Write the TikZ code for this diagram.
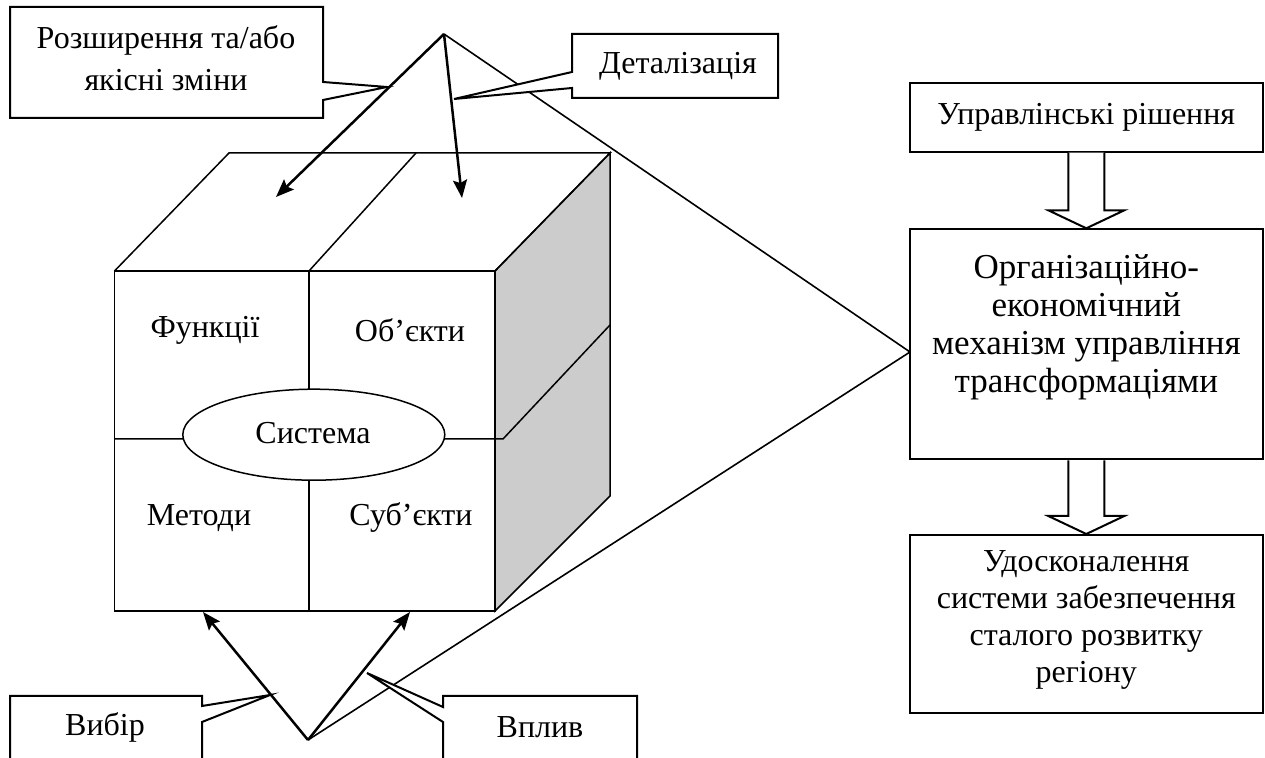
\documentclass[tikz,border=0pt]{standalone}
\usepackage{fontspec}
\setmainfont{Liberation Serif}
\usetikzlibrary{arrows.meta,calc,shapes.geometric}
\definecolor{sidegrey}{RGB}{204,204,204}
\begin{document}
\begin{tikzpicture}[x=0.5pt,y=-0.5pt,
  txt/.style={font=\fontsize{16pt}{18.5pt}\selectfont, align=center, inner sep=0pt},
  bigtxt/.style={font=\fontsize{17.5pt}{19pt}\selectfont, align=center, inner sep=0pt},
  box/.style={draw, line width=1pt, fill=white, inner sep=0pt},
  edge/.style={line width=0.75pt, line join=miter},
  ray/.style={line width=0.8pt},
  pointer/.style={line width=1.25pt, -{Stealth[length=9pt,width=7pt,inset=1.5pt]}},
  callout/.style={draw, line width=1pt, fill=white, line join=miter},
  hollow/.style={draw, line width=1pt, fill=white, line join=miter}
]
\useasboundingbox (0,0) rectangle (1265,758);
\clip (0,0) rectangle (1265,758);

% ---------- cube ----------
\coordinate (fTL) at (114.5,271);
\coordinate (fTR) at (495,271);
\coordinate (fBR) at (495,611);
\coordinate (fBL) at (114.5,611);
\coordinate (bTL) at (229,153);
\coordinate (bTR) at (610,153);
\coordinate (bBR) at (610,496);
\coordinate (fTM) at (309,271);
\coordinate (fBM) at (309,611);
\coordinate (bTM) at (416,153);
\coordinate (fML) at (114.5,439);
\coordinate (fMR) at (503,439);
\coordinate (bMR) at (610,325);

\filldraw[edge, fill=sidegrey] (fTR) -- (bTR) -- (bBR) -- (fBR) -- cycle;
\draw[edge] (fTL) rectangle (fBR);
\draw[edge] (fTL) -- (bTL) -- (bTR) -- (fTR);
\draw[edge] (fTM) -- (bTM);
\draw[edge] (fTM) -- (fBM);
\draw[edge] (fML) -- (fMR) -- (bMR);

\node[draw, ellipse, line width=0.75pt, fill=white, inner sep=0pt,
      minimum width=131pt, minimum height=45.5pt] (sys) at (313.8,434.7) {};
\node[txt] (systxt) at (313,433) {Система};

\node[txt] (func) at (205,330) {Функції};
\node[txt] (obj)  at (410,330) {Об’єкти};
\node[txt] (meth) at (199,518) {Методи};
\node[txt] (subj) at (411,518) {Суб’єкти};

% ---------- arrows onto the cube ----------
\coordinate (apexT) at (444,34);
\coordinate (apexB) at (308,740);
\coordinate (topL) at (276,197);
\coordinate (topR) at (462,198);
\coordinate (botL) at (203,612);
\coordinate (botR) at (410,612);
\coordinate (orgIn) at (910,352);

\draw[pointer] (apexT) -- (topL);
\draw[pointer] (apexT) -- (topR);
\draw[pointer] (apexB) -- (botL);
\draw[pointer] (apexB) -- (botR);
\draw[ray] (apexT) -- (orgIn);
\draw[ray] (apexB) -- (orgIn);

% ---------- callouts ----------
\coordinate (tipExt) at (387,87);
\coordinate (tipDet) at (454,99);
\coordinate (tipSel) at (270,695);
\coordinate (tipInf) at (367,673);

\draw[callout] (10,7) -- (323,7) -- (323,82) -- (tipExt) -- (323,100)
  -- (323,118) -- (10,118) -- cycle;
\node[txt, font=\fontsize{16pt}{21pt}\selectfont] (ext) at (166,58.5) {Розширення та/або\\якісні зміни};

\draw[callout] (572,34) -- (778,34) -- (778,98) -- (572,98) -- (572,88)
  -- (tipDet) -- (572,72) -- cycle;
\node[txt] (det) at (678,66) {Деталізація};

\draw[callout] (10,780) -- (10,696) -- (202,696) -- (202,706) -- (tipSel)
  -- (202,722) -- (202,780);
\node[txt] (sel) at (105,727) {Вибір};

\draw[callout] (443,780) -- (443,722) -- (tipInf) -- (443,707) -- (443,696)
  -- (637,696) -- (637,780);
\node[txt] (inf) at (540,727) {Вплив};

% ---------- right column ----------
\node[box, minimum width=176.3pt, minimum height=34.5pt] (dec) at (1086.3,117.2) {};
\node[txt] (dectxt) at (1086.3,117.2) {Управлінські рішення};

\node[box, minimum width=176.3pt, minimum height=115pt, anchor=north] (org) at (1086.3,228.3) {};
\node[bigtxt] (orgtxt) at (1086.3,327) {Організаційно-\\економічний\\механізм управління\\трансформаціями};

\node[box, minimum width=176.3pt, minimum height=88.8pt, anchor=north] (res) at (1086.3,534) {};
\node[txt] (restxt) at (1086.3,620) {Удосконалення\\системи забезпечення\\сталого розвитку\\регіону};

% hollow block arrows between the boxes
\draw[hollow] ($(dec.south)+(-18,0)$) -- ($(org.north)+(-18,-18)$)
  -- ($(org.north)+(-38,-18)$) -- (org.north) -- ($(org.north)+(38,-18)$)
  -- ($(org.north)+(18,-18)$) -- ($(dec.south)+(18,0)$);
\draw[hollow] ($(org.south)+(-18,0)$) -- ($(res.north)+(-18,-18)$)
  -- ($(res.north)+(-38,-18)$) -- (res.north) -- ($(res.north)+(38,-18)$)
  -- ($(res.north)+(18,-18)$) -- ($(org.south)+(18,0)$);
\end{tikzpicture}
\end{document}
